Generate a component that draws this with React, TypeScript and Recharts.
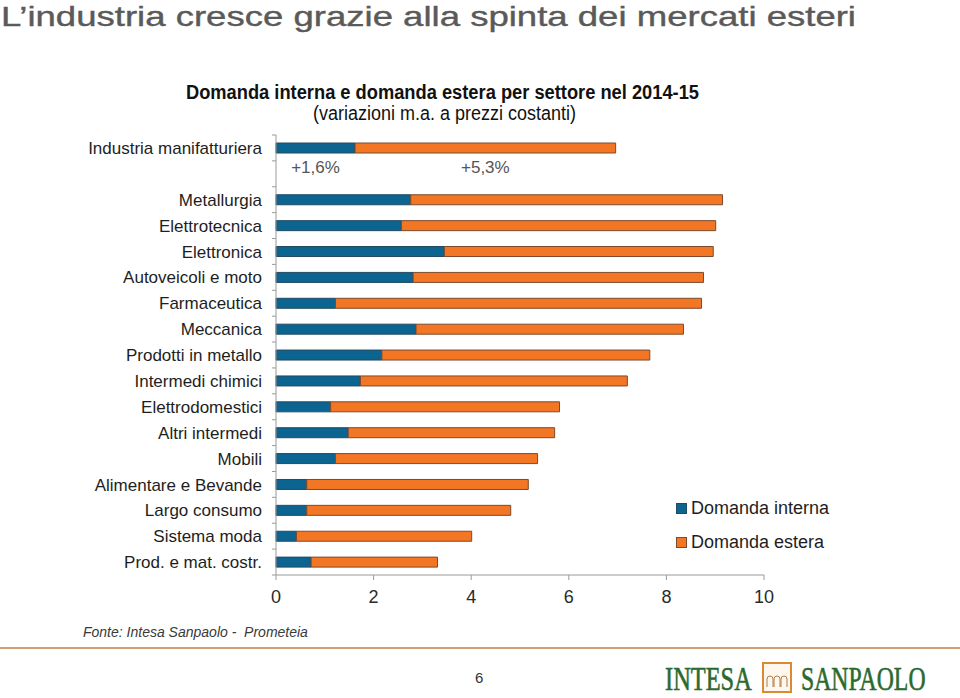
import React from "react";
import { BarChart, Bar, XAxis, YAxis, Legend, LabelList } from "recharts";

// Settori (riga vuota dopo il totale, come nell'originale)
const sectors = [
  "Industria manifatturiera",
  "",
  "Metallurgia",
  "Elettrotecnica",
  "Elettronica",
  "Autoveicoli e moto",
  "Farmaceutica",
  "Meccanica",
  "Prodotti in metallo",
  "Intermedi chimici",
  "Elettrodomestici",
  "Altri intermedi",
  "Mobili",
  "Alimentare e Bevande",
  "Largo consumo",
  "Sistema moda",
  "Prod. e mat.  costr.",
];

const domandaInterna = [1.62, null, 2.76, 2.57, 3.45, 2.81, 1.22, 2.87, 2.17, 1.73, 1.12, 1.48, 1.22, 0.63, 0.63, 0.42, 0.72];
const domandaEstera = [5.34, null, 6.39, 6.44, 5.51, 5.95, 7.5, 5.48, 5.49, 5.47, 4.69, 4.23, 4.14, 4.54, 4.18, 3.59, 2.59];

const xTicks = [0, 2, 4, 6, 8, 10];
const labelledSector = "Industria manifatturiera";

const series = [
  { key: "interna", name: "Domanda interna", fill: "#0c6491", stroke: "#234a63" },
  { key: "estera", name: "Domanda estera", fill: "#f37624", stroke: "#7d4a2c" },
];

const data = sectors.map((name, i) => ({
  name,
  interna: domandaInterna[i],
  estera: domandaEstera[i],
}));

const FONT = '"Liberation Sans", Arial, sans-serif';
const SERIF = '"Liberation Serif", serif';
const BAND = 440 / sectors.length;

const CategoryTick = (props: any) => {
  const { x, y, payload, index } = props;
  const ax = x + 8;
  return (
    <g>
      <line x1={ax - 4} x2={ax} y1={y - BAND / 2} y2={y - BAND / 2} stroke="#9a9a9a" />
      {index === sectors.length - 1 && (
        <line x1={ax - 4} x2={ax} y1={y + BAND / 2} y2={y + BAND / 2} stroke="#9a9a9a" />
      )}
      <text x={x - 6} y={y} dy="0.36em" textAnchor="end" fill="#1e1e1e" fontSize={17} fontFamily={FONT}>
        {payload.value}
      </text>
    </g>
  );
};

const pctLabel = (props: any) => {
  const { x, y, width, height, value, index } = props;
  if (sectors[index] !== labelledSector || value == null) return null;
  const txt = "+" + Number(value).toFixed(1).replace(".", ",") + "%";
  return (
    <text x={x + width / 2} y={y + height + 20} textAnchor="middle" fill="#555" fontSize={17} fontFamily={FONT}>
      {txt}
    </text>
  );
};

const LegendBox = () => (
  <div style={{ fontFamily: FONT, fontSize: 18, color: "#1e1e1e" }}>
    {series.map((s) => (
      <div key={s.key} style={{ display: "flex", alignItems: "center", height: 34 }}>
        <span
          style={{
            display: "inline-block",
            width: 9,
            height: 9,
            background: s.fill,
            border: `1px solid ${s.stroke}`,
            marginRight: 4,
          }}
        />
        <span>{s.name}</span>
      </div>
    ))}
  </div>
);

const Header = () => (
  <svg width={960} height={125} style={{ position: "absolute", left: 0, top: 0 }}>
    <text x={1} y={26} textLength={855} lengthAdjust="spacingAndGlyphs" fill="#5a5a5a" stroke="#5a5a5a" strokeWidth={0.4} fontSize={28} fontFamily={FONT}>
      L’industria cresce grazie alla spinta dei mercati esteri
    </text>
    <text x={186} y={99} textLength={513} lengthAdjust="spacingAndGlyphs" fill="#111" fontSize={20} fontWeight="bold" fontFamily={FONT}>
      Domanda interna e domanda estera per settore nel 2014-15
    </text>
    <text x={313} y={120} textLength={263} lengthAdjust="spacingAndGlyphs" fill="#111" fontSize={20} fontFamily={FONT}>
      (variazioni m.a. a prezzi costanti)
    </text>
  </svg>
);

const Logo = () => (
  <svg width={300} height={40} style={{ position: "absolute", left: 650, top: 656 }}>
    <g transform="translate(15 0) scale(0.74 1)">
      <text x={0} y={34} fill="#2b6a2e" stroke="#2b6a2e" strokeWidth={0.6} fontSize={33} fontFamily={SERIF}>
        INTESA
      </text>
    </g>
    <rect x={113} y={7} width={28} height={29} fill="#fdf7ee" stroke="#d98a34" strokeWidth={2} />
    <path
      d="M117 31 v-8 a3 3 0 0 1 6 0 v8 M124 31 v-8 a3 3 0 0 1 6 0 v8 M131 31 v-8 a3 3 0 0 1 6 0 v8"
      fill="none"
      stroke="#b07a4a"
      strokeWidth={1}
    />
    <g transform="translate(151 0) scale(0.72 1)">
      <text x={0} y={34} fill="#2b6a2e" stroke="#2b6a2e" strokeWidth={0.6} fontSize={33} fontFamily={SERIF}>
        SANPAOLO
      </text>
    </g>
  </svg>
);

export default function App() {
  return (
    <div style={{ position: "absolute", left: 0, top: 0, width: 960, height: 698, background: "#fff", overflow: "hidden" }}>
      <Header />

      <div style={{ position: "absolute", left: 0, top: 0 }}>
        <BarChart
          width={960}
          height={698}
          data={data}
          layout="vertical"
          margin={{ top: 135, right: 196, bottom: 93, left: 76 }}
          barSize={10}
        >
          <XAxis
            type="number"
            domain={[0, 10]}
            ticks={xTicks}
            height={30}
            tickSize={5}
            tickMargin={10}
            stroke="#9a9a9a"
            tick={{ fill: "#2a2a2a", fontSize: 18, fontFamily: FONT }}
          />
          <YAxis
            type="category"
            dataKey="name"
            width={200}
            stroke="#9a9a9a"
            tickLine={false}
            interval={0}
            tick={<CategoryTick />}
          />
          <Legend
            layout="vertical"
            align="center"
            verticalAlign="middle"
            wrapperStyle={{ left: 676, top: 491, width: 200, height: 70 }}
            content={<LegendBox />}
          />
          {series.map((s) => (
            <Bar key={s.key} dataKey={s.key} name={s.name} stackId="a" fill={s.fill} stroke={s.stroke} strokeWidth={1} isAnimationActive={false}>
              <LabelList dataKey={s.key} content={pctLabel} />
            </Bar>
          ))}
        </BarChart>
      </div>

      <div style={{ position: "absolute", left: 83, top: 624, fontFamily: FONT, fontSize: 14, fontStyle: "italic", color: "#3a3a3a", whiteSpace: "nowrap" }}>
        Fonte: Intesa Sanpaolo -&nbsp; Prometeia
      </div>
      <div style={{ position: "absolute", left: 0, top: 647, width: 960, height: 2, background: "#d2a06c" }} />
      <div style={{ position: "absolute", left: 475, top: 669, fontFamily: FONT, fontSize: 15, color: "#333" }}>6</div>
      <Logo />
    </div>
  );
}
